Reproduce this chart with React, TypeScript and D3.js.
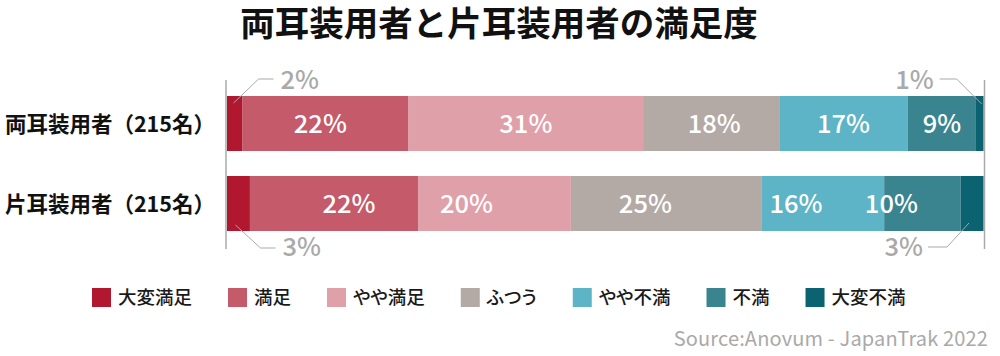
import React, { useLayoutEffect, useRef, useState } from "react";
import * as d3 from "d3";

const title = "両耳装用者と片耳装用者の満足度";
const categories = ["両耳装用者（215名）", "片耳装用者（215名）"];
const levels = ["大変満足", "満足", "やや満足", "ふつう", "やや不満", "不満", "大変不満"];
const colors = ["#b1172f", "#c55a6a", "#dfa0aa", "#b3aaa6", "#5db4c6", "#3a8490", "#0b6270"];
const bothEars = [2, 22, 31, 18, 17, 9, 1];
const oneEar = [3, 22, 20, 25, 16, 10, 3];
const rows = [bothEars, oneEar];
const source = "Source:Anovum - JapanTrak 2022";

// label nudges (style only)
const labelShift = [
  [0, -5, 0, 3, 0, 0, 0],
  [0, 15, -28, -21, -27, -31, 0],
];

const W = 1000;
const H = 356;
const FONT = "'Noto Sans CJK JP', 'Noto Sans', sans-serif";
const GRAY = "#a9a9a9";
const legendFont = 18.5;

export default function App() {
  const y = d3.scaleBand<string>().domain(categories).range([96, 231]).paddingInner(0.3125).paddingOuter(0);
  const bw = y.bandwidth();

  const textRefs = useRef<(SVGTextElement | null)[]>([]);
  const [widths, setWidths] = useState<number[]>(levels.map((l) => l.length * legendFont));
  useLayoutEffect(() => {
    const w = textRefs.current.map((t, i) => (t ? t.getComputedTextLength() : levels[i].length * legendFont));
    if (w.some((v, i) => Math.abs(v - widths[i]) > 0.5)) setWidths(w);
  });

  const legendX: number[] = [92];
  levels.forEach((l, i) => {
    if (i > 0) legendX.push(legendX[i - 1] + 19 + 7 + widths[i - 1] + 36);
  });

  return (
    <svg width={W} height={H} style={{ position: "absolute", left: 0, top: 0 }} fontFamily={FONT}>
      <rect width={W} height={H} fill="#fff" />
      <text x={499} y={36} textAnchor="middle" fontSize={34.5} fontWeight={700} fill="#111">
        {title}
      </text>

      {/* axis lines */}
      <line x1={226} x2={226} y1={80} y2={249} stroke="#aaa" strokeWidth={1.5} />
      <line x1={984.5} x2={984.5} y1={80} y2={249} stroke="#aaa" strokeWidth={1.5} />

      {rows.map((vals, r) => {
        const total = d3.sum(vals);
        const x = d3.scaleLinear().domain([0, total]).range([227, 983.5]);
        const cum = d3.cumsum(vals);
        const y0 = y(categories[r])!;
        const cy = y0 + bw / 2;
        const starts = vals.map((v, i) => cum[i] - v);
        const first = 0;
        const last = vals.length - 1;
        const fx = (x(starts[first]) + x(cum[first])) / 2;
        const lx = (x(starts[last]) + x(cum[last])) / 2;
        const top = r === 0;
        return (
          <g key={r}>
            <text x={215} y={cy + 1} dy="0.35em" textAnchor="end" fontSize={21.5} fontWeight={700} fill="#111">
              {categories[r]}
            </text>
            {vals.map((v, i) => (
              <rect key={i} x={x(starts[i])} y={y0} width={x(cum[i]) - x(starts[i])} height={bw} fill={colors[i]} />
            ))}
            {vals.map((v, i) =>
              i === first || i === last ? null : (
                <text
                  key={"t" + i}
                  x={(x(starts[i]) + x(cum[i])) / 2 + labelShift[r][i]}
                  y={cy}
                  dy="0.36em"
                  textAnchor="middle"
                  fontSize={25.5}
                  fontWeight={500}
                  fill="#fff"
                >
                  {v}%
                </text>
              )
            )}
            {/* callouts */}
            {top ? (
              <g>
                <polyline points={`${fx - 1},${y0 + 7} ${fx + 24},${y0 - 17} ${fx + 39},${y0 - 17}`} fill="none" stroke={GRAY} strokeWidth={1} />
                <text x={fx + 46} y={y0 - 7} fontSize={25.5} fontWeight={500} fill={GRAY}>
                  {vals[first]}%
                </text>
                <polyline points={`${lx + 2},${y0 + 8} ${lx - 23},${y0 - 17} ${lx - 40},${y0 - 17}`} fill="none" stroke={GRAY} strokeWidth={1} />
                <text x={lx - 46} y={y0 - 7} textAnchor="end" fontSize={25.5} fontWeight={500} fill={GRAY}>
                  {vals[last]}%
                </text>
              </g>
            ) : (
              <g>
                <polyline points={`${fx - 3},${y0 + bw - 6} ${fx + 22},${y0 + bw + 17} ${fx + 37},${y0 + bw + 17}`} fill="none" stroke={GRAY} strokeWidth={1} />
                <text x={fx + 44} y={y0 + bw + 25} fontSize={25.5} fontWeight={500} fill={GRAY}>
                  {vals[first]}%
                </text>
                <polyline points={`${lx - 3},${y0 + bw - 8} ${lx - 25},${y0 + bw + 16} ${lx - 44},${y0 + bw + 16}`} fill="none" stroke={GRAY} strokeWidth={1} />
                <text x={lx - 49} y={y0 + bw + 25} textAnchor="end" fontSize={25.5} fontWeight={500} fill={GRAY}>
                  {vals[last]}%
                </text>
              </g>
            )}
          </g>
        );
      })}

      {/* legend */}
      {levels.map((l, i) => (
        <g key={l} transform={`translate(${legendX[i]},288)`}>
          <rect width={19} height={19} fill={colors[i]} />
          <text
            ref={(el) => {
              textRefs.current[i] = el;
            }}
            x={26}
            y={9.5}
            dy="0.36em"
            fontSize={legendFont}
            fontWeight={500}
            fill="#1a1a1a"
            style={{ fontFeatureSettings: "'palt'" }}
          >
            {l}
          </text>
        </g>
      ))}

      <text x={988} y={346} textAnchor="end" fontSize={20} fill={GRAY} letterSpacing={0.15}>
        {source}
      </text>
    </svg>
  );
}
